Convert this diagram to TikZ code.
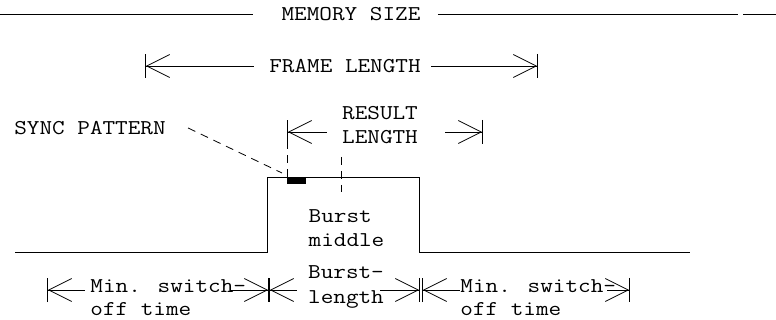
\documentclass[tikz,border=0pt]{standalone}
\usetikzlibrary{positioning,arrows.meta}

\begin{document}
\begin{tikzpicture}[x=1pt,y=-1pt,line width=.8pt,
  every node/.style={font=\ttfamily\fontsize{24.5}{28.5}\selectfont,inner sep=0pt},
  txt/.style={yscale=.86,transform shape},
  dimtip/.style={{Bar[width=24pt]Straight Barb[length=23pt,width=23pt]}-},
  leader/.style={dash pattern=on 8pt off 6pt}]
\useasboundingbox (0,0) rectangle (776,320);
%\draw[help lines] (0,0) grid (776,320);
\node[txt] (mem) at (351,14) {MEMORY SIZE};
\node[txt] (fl) at (345,66) {FRAME LENGTH};
\node[txt] (sync) at (90,128) {SYNC PATTERN};
\node[txt,align=center] (rl) at (380,125) {RESULT\\LENGTH};
\node[txt,align=left] (bm) at (346.5,228) {Burst\\middle};
\node[txt,align=left] (bl) at (346,287) {Burst-\\length};
\node[txt,align=left,anchor=west,font=\ttfamily\fontsize{24.5}{26.5}\selectfont] (swL) at (90,298) {Min. switch-\\off time};
\node[txt,align=left,anchor=west,font=\ttfamily\fontsize{24.5}{26.5}\selectfont] (swR) at (460,298) {Min. switch-\\off time};
\coordinate (m0) at (0,14);   \coordinate (m1) at (738,14);
\coordinate (m2) at (743,14); \coordinate (m3) at (776,14);
\coordinate (f0) at (145,66); \coordinate (f1) at (538,66);
\coordinate (r0) at (287,132); \coordinate (r1) at (483,132);
\coordinate (d0) at (47,290);  \coordinate (d1) at (269,290);
\coordinate (d2) at (420,290); \coordinate (d3) at (422,290);
\coordinate (d4) at (630,290); \coordinate (mid) at (341,157);
\draw (15,252) -- (267,252) -- (267,177) -- (419,177) -- (419,252) -- (690,252);
\node[fill,minimum width=19pt,minimum height=7pt,anchor=north west] (sb) at (287,177) {};
\draw (m0) -- ([xshift=-28pt]mem.west) ([xshift=17pt]mem.east) -- (m1) (m2) -- (m3);
\draw[dimtip] (f0) -- ([xshift=-15pt]fl.west);
\draw[dimtip] (f1) -- ([xshift=10pt]fl.east);
\draw[dimtip] (r0) -- +(40,0);
\draw[dimtip] (r1) -- +(-38,0);
\draw[dimtip] (d0) -- +(38,0);
\draw[dimtip] (d1) -- +(-39,0);
\draw[dimtip] (d1) -- +(28,0);
\draw[dimtip] (d2) -- +(-40,0);
\draw[dimtip] (d3) -- +(38,0);
\draw[dimtip] (d4) -- +(-23,0);
\draw[leader] ([xshift=22pt]sync.east) -- ([shift={(-5pt,4pt)}]sb.north west);
\draw[leader] (sb.north west) -- +(0,-33);
\draw[leader] (mid) -- +(0,35);
\end{tikzpicture}
\end{document}
